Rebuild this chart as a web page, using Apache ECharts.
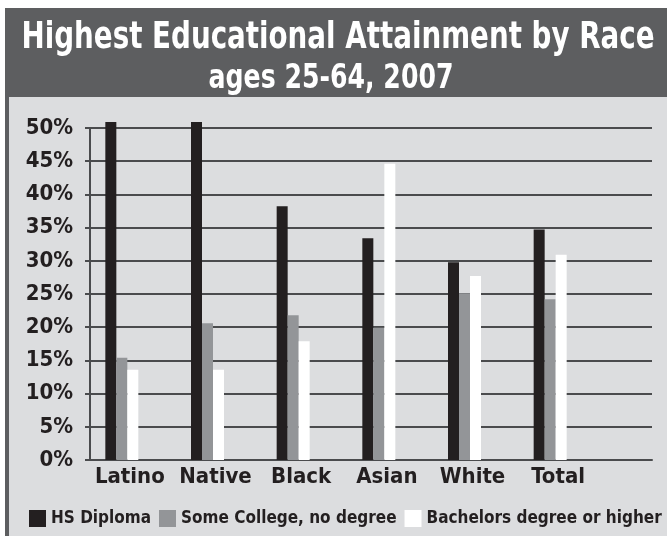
<!DOCTYPE html>
<html>
<head>
<meta charset="utf-8">
<script src="https://cdn.jsdelivr.net/npm/echarts@6/dist/echarts.min.js"></script>
<style>
html,body{margin:0;padding:0;background:#fff;}
#main{width:667px;height:536px;}
</style>
</head>
<body>
<div id="main"></div>
<script>
var races = ['Latino', 'Native', 'Black', 'Asian', 'White', 'Total'];
var hsDiploma = [50.9, 50.9, 38.2, 33.4, 29.8, 34.7];
var someCollege = [15.4, 20.6, 21.8, 19.9, 25.1, 24.2];
var bachelors = [13.6, 13.6, 17.9, 44.6, 27.7, 30.9];
var seriesNames = ['HS Diploma', 'Some College, no degree', 'Bachelors degree or higher'];
var titleText = 'Highest Educational Attainment by Race';
var subText = 'ages 25-64, 2007';

var narrow = "'DejaVu Sans Condensed', 'Liberation Sans Narrow', sans-serif";

// 按目标宽度横向压缩标题
function fitScale(text, font, target) {
	var ctx = document.createElement('canvas').getContext('2d');
	ctx.font = font;
	return target / ctx.measureText(text).width;
}

//柱状图
function bar() {
	var chart = echarts.init(document.getElementById('main'));
	var titleFont = 'bold 38px ' + narrow;
	var subFont = 'bold 33px ' + narrow;
	var option = {
		backgroundColor: '#fff',
		animation: false,
		graphic: [
			{ type: 'rect', z: -10, shape: { x: 5, y: 8, width: 662, height: 528 }, style: { fill: '#5d5e60' } },
			{ type: 'rect', z: -9, shape: { x: 9, y: 97, width: 658, height: 439 }, style: { fill: '#dcdddf' } },
			{
				type: 'text', x: 338, y: 57, scaleX: fitScale(titleText, titleFont, 633),
				style: { text: titleText, x: 0, y: 0, font: titleFont, fill: '#fff', align: 'center', verticalAlign: 'bottom' }
			},
			{
				type: 'text', x: 331, y: 96, scaleX: fitScale(subText, subFont, 245),
				style: { text: subText, x: 0, y: 0, font: subFont, fill: '#fff', align: 'center', verticalAlign: 'bottom' }
			}
		],
		legend: {
			data: seriesNames,
			left: 24,
			top: 505,
			icon: 'rect',
			itemWidth: 17,
			itemHeight: 17,
			itemGap: 8,
			textStyle: { color: '#231f20', fontFamily: narrow, fontSize: 17, fontWeight: 'bold' }
		},
		grid: [
			{ left: 90, right: 15, top: 128, bottom: 76 },
			{ left: 79, width: 514, top: 128, bottom: 76 }
		],
		xAxis: [{
			gridIndex: 0,
			type: 'value',
			min: 0,
			max: 1,
			axisLine: { show: true, lineStyle: { color: '#4a4b4d', width: 2 } },
			axisTick: { show: false },
			axisLabel: { show: false },
			splitLine: { show: false }
		}, {
			gridIndex: 1,
			type: 'category',
			data: races,
			axisLine: { show: false },
			axisTick: { show: false },
			axisLabel: {
				interval: 0,
				color: '#231f20',
				fontFamily: narrow,
				fontSize: 22,
				fontWeight: 'bold',
				margin: 6,
				padding: [0, 0, 0, 16]
			}
		}],
		yAxis: [{
			gridIndex: 0,
			type: 'value',
			min: 0,
			max: 50,
			interval: 5,
			axisLine: { show: true, lineStyle: { color: '#4a4b4d', width: 2 } },
			axisTick: { show: true, length: 5, lineStyle: { color: '#4a4b4d', width: 2 } },
			axisLabel: {
				formatter: '{value}%',
				color: '#231f20',
				fontFamily: narrow,
				fontSize: 22,
				fontWeight: 'bold',
				margin: 17
			},
			splitLine: { show: true, lineStyle: { color: '#4a4b4d', width: 2 } }
		}, {
			gridIndex: 1,
			type: 'value',
			min: 0,
			max: 50,
			show: false
		}],
		series: [{
			name: seriesNames[0],
			type: 'bar',
			xAxisIndex: 1,
			yAxisIndex: 1,
			data: hsDiploma,
			clip: false,
			barWidth: 11,
			barGap: '0%',
			itemStyle: { color: '#231f20' }
		}, {
			name: seriesNames[1],
			type: 'bar',
			xAxisIndex: 1,
			yAxisIndex: 1,
			data: someCollege,
			clip: false,
			barWidth: 11,
			barGap: '0%',
			itemStyle: { color: '#939598' }
		}, {
			name: seriesNames[2],
			type: 'bar',
			xAxisIndex: 1,
			yAxisIndex: 1,
			data: bachelors,
			clip: false,
			barWidth: 11,
			barGap: '0%',
			itemStyle: { color: '#ffffff' }
		}]
	};
	chart.setOption(option);
}
bar();
</script>
</body>
</html>
